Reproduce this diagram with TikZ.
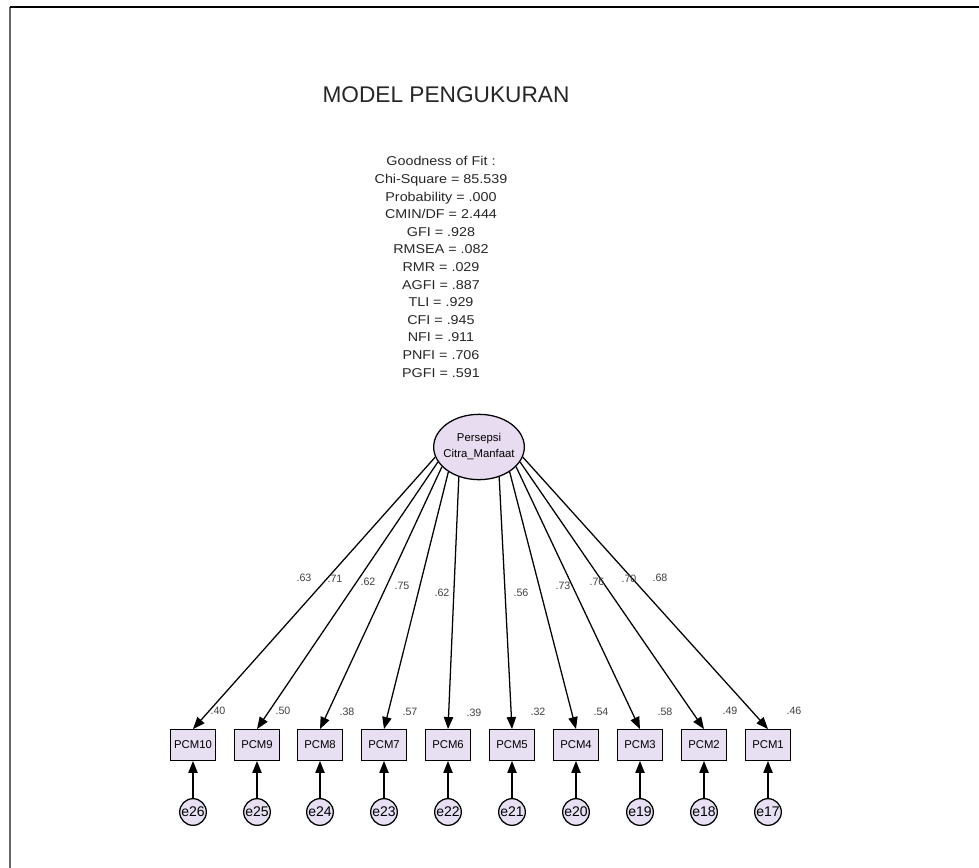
\documentclass[tikz,border=0pt]{standalone}
\usepackage{fontspec}
\setmainfont{Liberation Sans}
\newfontfamily\fitfont[FakeStretch=1.12]{Liberation Sans}
\usetikzlibrary{arrows.meta, shapes.geometric}

\definecolor{boxfill}{HTML}{E6E0F2}
\definecolor{latfill}{HTML}{E8DCF0}

\begin{document}
\begin{tikzpicture}[>={Triangle[length=9pt,width=7pt]}, x=0.75pt, y=-0.75pt, line width=0.95pt]
            \tikzstyle{obs}=[rectangle, draw=black, fill=boxfill, minimum width=34pt, minimum height=23pt, inner sep=0pt, font=\fontsize{8.5}{9}\selectfont]
            \tikzstyle{err}=[circle, draw=black, fill=boxfill, minimum size=20pt, inner sep=0pt, font=\fontsize{10.5}{11}\selectfont]
            \tikzstyle{lat}=[ellipse, draw=black, fill=latfill, minimum width=68pt, minimum height=49pt, inner xsep=-12pt, inner ysep=0pt, align=center, font=\fontsize{8.5}{12}\selectfont]
            \tikzstyle{est}=[inner sep=0pt, text=black!75, font=\fontsize{8}{9}\selectfont]

            \useasboundingbox (0,0) rectangle (979,868);
            \draw[black!60, line width=0.8pt] (10,868) -- (10,7);
            \draw[black, line width=1.2pt] (10,7) -- (979,7);

            \node[font=\fontsize{17}{20}\selectfont, text=black!85] (title) at (446,95) {MODEL PENGUKURAN};
            \node[align=center, font=\fitfont\fontsize{9.6}{13.2}\selectfont, text=black!85] (fit) at (441,267) {Goodness of Fit :\\Chi-Square = 85.539\\Probability = .000\\CMIN/DF = 2.444\\GFI = .928\\RMSEA = .082\\RMR = .029\\AGFI = .887\\TLI = .929\\CFI = .945\\NFI = .911\\PNFI = .706\\PGFI = .591};

            \node[lat] (PCM) at (479,447) {Persepsi\\Citra\_Manfaat};

            \node[obs] (PCM10) at (193,745) {PCM10};
            \node[obs] (PCM9) at (257,745) {PCM9};
            \node[obs] (PCM8) at (320,745) {PCM8};
            \node[obs] (PCM7) at (384,745) {PCM7};
            \node[obs] (PCM6) at (448,745) {PCM6};
            \node[obs] (PCM5) at (512,745) {PCM5};
            \node[obs] (PCM4) at (576,745) {PCM4};
            \node[obs] (PCM3) at (640,745) {PCM3};
            \node[obs] (PCM2) at (704,745) {PCM2};
            \node[obs] (PCM1) at (768,745) {PCM1};

            \node[err] (e26) at (193,812) {e26};
            \node[err] (e25) at (257,812) {e25};
            \node[err] (e24) at (320,812) {e24};
            \node[err] (e23) at (384,812) {e23};
            \node[err] (e22) at (448,812) {e22};
            \node[err] (e21) at (512,812) {e21};
            \node[err] (e20) at (576,812) {e20};
            \node[err] (e19) at (640,812) {e19};
            \node[err] (e18) at (704,812) {e18};
            \node[err] (e17) at (768,812) {e17};

            \path (PCM.193) edge[->] (PCM10.north);
            \path (PCM.200) edge[->] (PCM9.north);
            \path (PCM.208) edge[->] (PCM8.north);
            \path (PCM.219) edge[->] (PCM7.north);
            \path (PCM.236) edge[->] (PCM6.north);
            \path (PCM.304) edge[->] (PCM5.north);
            \path (PCM.321) edge[->] (PCM4.north);
            \path (PCM.332) edge[->] (PCM3.north);
            \path (PCM.340) edge[->] (PCM2.north);
            \path (PCM.347) edge[->] (PCM1.north);

            \path (e26) edge[->] (PCM10);
            \path (e25) edge[->] (PCM9);
            \path (e24) edge[->] (PCM8);
            \path (e23) edge[->] (PCM7);
            \path (e22) edge[->] (PCM6);
            \path (e21) edge[->] (PCM5);
            \path (e20) edge[->] (PCM4);
            \path (e19) edge[->] (PCM3);
            \path (e18) edge[->] (PCM2);
            \path (e17) edge[->] (PCM1);

            % loadings
            \node[est] (w10) at (304,578) {.63};
            \node[est] (w9) at (335,579) {.71};
            \node[est] (w8) at (368,582) {.62};
            \node[est] (w7) at (402,586) {.75};
            \node[est] (w6) at (442,593) {.62};
            \node[est] (w5) at (521,593) {.56};
            \node[est] (w4) at (563,586) {.73};
            \node[est] (w3) at (597,582) {.76};
            \node[est] (w2) at (629,579) {.70};
            \node[est] (w1) at (660,578) {.68};

            % squared multiple correlations
            \node[est] (r10) at (218,711) {.40};
            \node[est] (r9) at (283,711) {.50};
            \node[est] (r8) at (347,712) {.38};
            \node[est] (r7) at (410,712) {.57};
            \node[est] (r6) at (474,713) {.39};
            \node[est] (r5) at (538,712) {.32};
            \node[est] (r4) at (601,712) {.54};
            \node[est] (r3) at (665,712) {.58};
            \node[est] (r2) at (730,711) {.49};
            \node[est] (r1) at (794,711) {.46};

          \end{tikzpicture}
\end{document}
